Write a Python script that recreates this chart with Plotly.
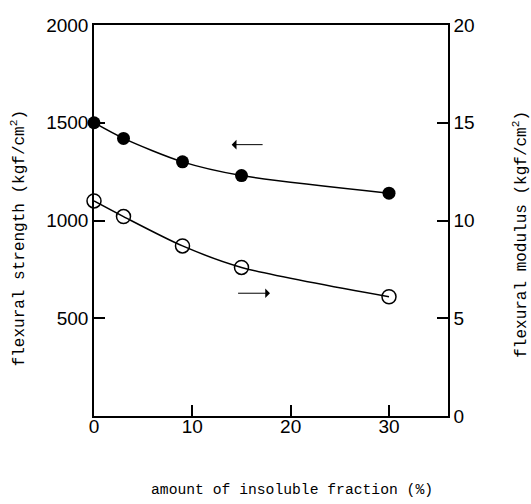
import plotly.graph_objects as go

# data
insoluble = [0, 3, 9, 15, 30]
strength = [1500, 1420, 1300, 1230, 1140]        # kgf/cm2 (left axis)
modulus = [11.0, 10.2, 8.7, 7.6, 6.1]            # right axis
x_ticks = [0, 10, 20, 30]
y1_ticks = [0, 500, 1000, 1500, 2000]
y1_labels = ["", "500", "1000", "1500", "2000"]
y2_ticks = [0, 5, 10, 15, 20]

mono = "Liberation Mono"
sans = "Liberation Sans"

fig = go.Figure()
fig.add_trace(go.Scatter(
    x=insoluble, y=strength, mode="lines+markers",
    line=dict(color="black", width=1.5, shape="spline", smoothing=0.8),
    marker=dict(symbol="circle", size=13, color="black"),
    showlegend=False, cliponaxis=False))
fig.add_trace(go.Scatter(
    x=insoluble, y=modulus, mode="lines+markers", yaxis="y2",
    line=dict(color="black", width=1.5, shape="spline", smoothing=0.8),
    marker=dict(symbol="circle-open", size=14, color="black", line=dict(width=1.5)),
    showlegend=False, cliponaxis=False))

# arrows
fig.add_annotation(x=14.0, y=1388, ax=17.3, ay=1388, xref="x", yref="y",
                   axref="x", ayref="y", showarrow=True, text="",
                   arrowhead=1, arrowsize=1.6, arrowwidth=1, arrowcolor="black")
fig.add_annotation(x=17.9, y=6.28, ax=14.5, ay=6.28, xref="x", yref="y2",
                   axref="x", ayref="y2", showarrow=True, text="",
                   arrowhead=1, arrowsize=1.6, arrowwidth=1, arrowcolor="black")

# axis titles
fig.add_annotation(text="amount of insoluble fraction (%)", xref="paper", yref="paper",
                   x=0.559, y=-0.189, showarrow=False, xanchor="center", yanchor="middle",
                   font=dict(family=mono, size=14.7, color="black"))
fig.add_annotation(text="flexural strength (kgf/cm<sup>2</sup>)", xref="paper", yref="paper",
                   x=-0.214, y=0.455, showarrow=False, textangle=-90,
                   xanchor="center", yanchor="middle",
                   font=dict(family=mono, size=16, color="black"))
fig.add_annotation(text="flexural modulus (kgf/cm<sup>2</sup>)", xref="paper", yref="paper",
                   x=1.205, y=0.465, showarrow=False, textangle=-90,
                   xanchor="center", yanchor="middle",
                   font=dict(family=mono, size=16, color="black"))

axis_common = dict(showline=True, linecolor="black", linewidth=1.5,
                   ticks="inside", ticklen=11, tickwidth=1.5, tickcolor="black",
                   showgrid=False, zeroline=False, automargin=False,
                   tickfont=dict(family=sans, size=19, color="black"))

fig.update_layout(
    width=531, height=504,
    margin=dict(l=94, r=83, t=25, b=88),
    plot_bgcolor="white", paper_bgcolor="white",
    xaxis=dict(range=[0, 36], tickvals=x_ticks, mirror=True,
               ticklabelstandoff=-8, **axis_common),
    yaxis=dict(range=[0, 2000], tickvals=y1_ticks, ticktext=y1_labels, **axis_common),
    yaxis2=dict(range=[0, 20], tickvals=y2_ticks, overlaying="y", side="right",
                **axis_common),
)

fig.write_html("out.html",
               config={"displayModeBar": False},
               post_script="document.body.style.margin='0';document.body.style.overflow='hidden';")
